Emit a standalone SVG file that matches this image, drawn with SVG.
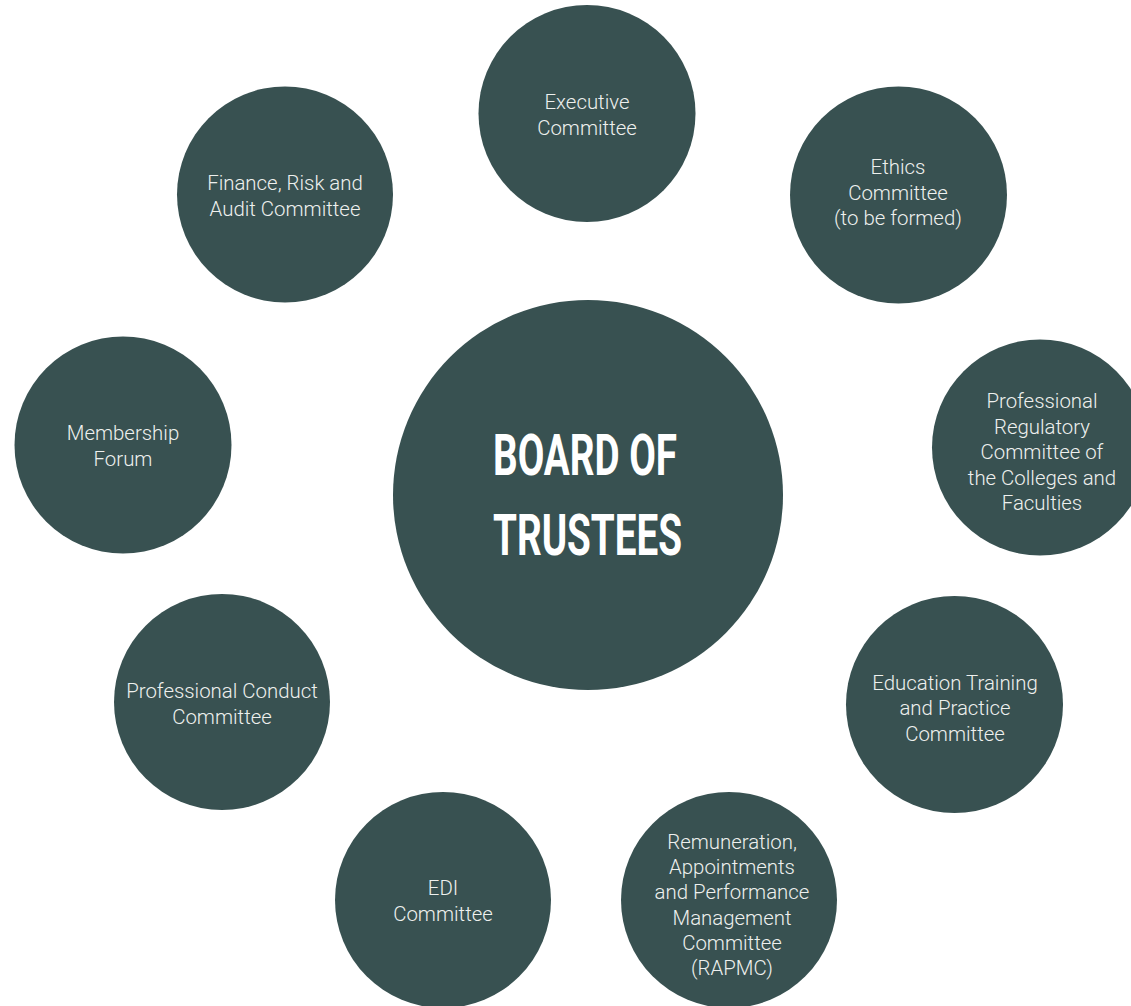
<svg xmlns="http://www.w3.org/2000/svg" width="1131" height="1006" viewBox="0 0 1131 1006">
<style>
.bubble{fill:#385151;}
.lbl{font-family:Roboto,"Liberation Sans",sans-serif;font-weight:300;font-size:20.4px;fill:#eef0ee;text-anchor:middle;}
.title{font-family:Roboto,"Liberation Sans",sans-serif;font-weight:700;font-size:58px;fill:#ffffff;text-anchor:middle;}
</style>
<rect width="1131" height="1006" fill="#ffffff"/>
<g id="connectors"></g>
<g id="board">
<circle class="bubble" cx="588" cy="495" r="195"/>
<text class="title" x="585" y="475" textLength="184" lengthAdjust="spacingAndGlyphs">BOARD OF</text>
<text class="title" x="587.5" y="555" textLength="189" lengthAdjust="spacingAndGlyphs">TRUSTEES</text>
</g>
<g id="executive">
<circle class="bubble" cx="587" cy="113.5" r="108.5"/>
<text class="lbl" x="587" y="109">Executive</text>
<text class="lbl" x="587" y="135">Committee</text>
</g>
<g id="finance">
<circle class="bubble" cx="285" cy="194.5" r="108"/>
<text class="lbl" x="285" y="190">Finance, Risk and</text>
<text class="lbl" x="285" y="216">Audit Committee</text>
</g>
<g id="ethics">
<circle class="bubble" cx="898.5" cy="195" r="108.5"/>
<text class="lbl" x="898" y="174">Ethics</text>
<text class="lbl" x="898" y="200">Committee</text>
<text class="lbl" x="898" y="225">(to be formed)</text>
</g>
<g id="membership">
<circle class="bubble" cx="123" cy="445" r="108.5"/>
<text class="lbl" x="123" y="440">Membership</text>
<text class="lbl" x="123" y="466">Forum</text>
</g>
<g id="regulatory">
<circle class="bubble" cx="1040" cy="447.5" r="108"/>
<text class="lbl" x="1042" y="408">Professional</text>
<text class="lbl" x="1042" y="434">Regulatory</text>
<text class="lbl" x="1042" y="459">Committee of</text>
<text class="lbl" x="1042" y="485">the Colleges and</text>
<text class="lbl" x="1042" y="510">Faculties</text>
</g>
<g id="conduct">
<circle class="bubble" cx="222" cy="702" r="108"/>
<text class="lbl" x="222" y="698">Professional Conduct</text>
<text class="lbl" x="222" y="724">Committee</text>
</g>
<g id="education">
<circle class="bubble" cx="954.5" cy="704.5" r="108.5"/>
<text class="lbl" x="955" y="690">Education Training</text>
<text class="lbl" x="955" y="715">and Practice</text>
<text class="lbl" x="955" y="741">Committee</text>
</g>
<g id="edi">
<circle class="bubble" cx="443" cy="900" r="108"/>
<text class="lbl" x="443" y="895">EDI</text>
<text class="lbl" x="443" y="921">Committee</text>
</g>
<g id="rapmc">
<circle class="bubble" cx="729" cy="900" r="108"/>
<text class="lbl" x="732" y="849">Remuneration,</text>
<text class="lbl" x="732" y="874">Appointments</text>
<text class="lbl" x="732" y="899">and Performance</text>
<text class="lbl" x="732" y="925">Management</text>
<text class="lbl" x="732" y="950">Committee</text>
<text class="lbl" x="732" y="975">(RAPMC)</text>
</g>
</svg>
